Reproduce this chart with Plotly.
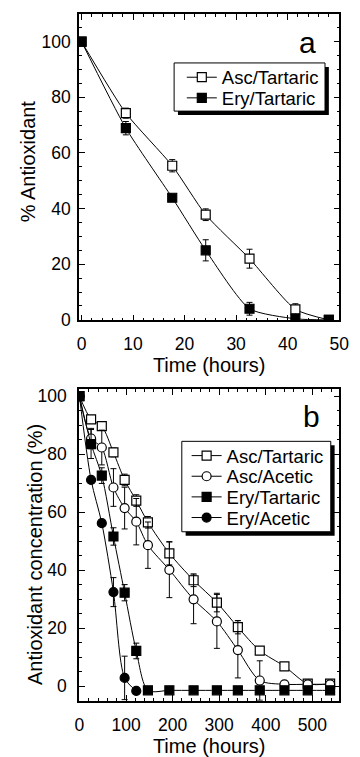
import plotly.graph_objects as go

# ---------------- data: panel a ----------------
time_a = [0, 8.6, 17.6, 24.1, 32.6, 41.5, 48]
asc_tart_a = [100, 74.3, 55.4, 37.8, 22.0, 3.8, 0]
asc_tart_a_err = [0, 1.8, 2.2, 2.1, 3.4, 2.0, 0]
ery_tart_a = [100, 68.9, 43.9, 25.0, 4.0, 0.4, 0]
ery_tart_a_err = [0, 2.4, 1.0, 3.8, 2.3, 0.5, 0]

# ---------------- data: panel b ----------------
time_b = [0, 25, 48, 73, 97, 122, 147, 193, 245, 295, 340, 387, 440, 490, 538]
asc_tart_b = [100, 92.0, 89.7, 80.6, 71.1, 64.0, 56.5, 45.8, 36.5, 28.8, 20.3, 12.2, 6.8, 0.8, 0.8]
asc_tart_b_err = [0, 1.0, 1.5, 1.5, 2.0, 2.0, 2.0, 4.0, 2.2, 3.2, 2.3, 0.5, 0.5, 0.5, 0.5]
asc_acet_b = [100, 85.4, 82.3, 68.5, 61.4, 56.7, 48.6, 40.1, 29.9, 22.3, 12.4, 1.9, 0.6, 0.6, 0.6]
asc_acet_b_err = [0, 3.5, 6.0, 6.5, 7.2, 8.0, 8.0, 9.6, 8.4, 9.3, 9.6, 6.8, 0.3, 0.3, 0.3]
ery_tart_b = [100, 83.5, 72.6, 51.6, 32.2, 12.1, -1.5, -1.5, -1.5, -1.5, -1.5, -1.5, -1.5, -1.5, -1.5]
ery_tart_b_err = [0, 5.0, 2.7, 3.0, 2.8, 2.7, 0, 0, 0, 0, 0, 0, 0, 0, 0]
time_b_ery_acet = [0, 25, 48, 73, 97, 122]
ery_acet_b = [100, 71.1, 56.2, 32.4, 2.8, -1.7]
ery_acet_b_err = [0, 1.0, 1.0, 5.0, 7.5, 0]

W, H = 360, 757
FONT = "Liberation Sans, Arial, Helvetica, sans-serif"


def px(x):
    return x / W


def py(y):
    return 1 - y / H


def trace(x, y, err, name, symbol, filled, xa, ya, legend, smoothing):
    return go.Scatter(
        x=x, y=y, name=name, mode="lines+markers",
        xaxis=xa, yaxis=ya, legend=legend,
        line=dict(color="black", width=1, shape="spline", smoothing=smoothing),
        marker=dict(symbol=symbol, size=9,
                    color="black" if filled else "white",
                    line=dict(color="black", width=1.2)),
        error_y=dict(type="data", array=err, visible=True,
                     color="black", thickness=1, width=3),
    )


fig = go.Figure()
fig.add_trace(trace(time_a, asc_tart_a, asc_tart_a_err, "Asc/Tartaric", "square", False, "x", "y", "legend", 0.6))
fig.add_trace(trace(time_a, ery_tart_a, ery_tart_a_err, "Ery/Tartaric", "square", True, "x", "y", "legend2", 0.6))
fig.add_trace(trace(time_b, asc_tart_b, asc_tart_b_err, "Asc/Tartaric", "square", False, "x2", "y2", "legend3", 0.8))
fig.add_trace(trace(time_b, asc_acet_b, asc_acet_b_err, "Asc/Acetic", "circle", False, "x2", "y2", "legend4", 0.8))
fig.add_trace(trace(time_b, ery_tart_b, ery_tart_b_err, "Ery/Tartaric", "square", True, "x2", "y2", "legend5", 0.8))
fig.add_trace(trace(time_b_ery_acet, ery_acet_b, ery_acet_b_err, "Ery/Acetic", "circle", True, "x2", "y2", "legend6", 0.8))


def axis(domain, rng, dtick, minor_dtick, title, standoff, tls):
    return dict(
        domain=domain, range=rng, dtick=dtick, tick0=0,
        showgrid=False, zeroline=False,
        showline=True, linecolor="black", linewidth=1.5, mirror="ticks",
        ticks="inside", ticklen=6, tickwidth=1, tickcolor="black",
        minor=dict(dtick=minor_dtick, tick0=0, ticks="inside", ticklen=3,
                   tickwidth=1, tickcolor="black", showgrid=False),
        tickfont=dict(family=FONT, size=17.5, color="black"),
        title=dict(text=title, font=dict(family=FONT, size=20, color="black"), standoff=standoff),
        ticklabelstandoff=tls,
    )


xd = [px(78), px(349)]
layout = dict(
    width=W, height=H,
    margin=dict(l=0, r=0, t=0, b=0),
    paper_bgcolor="white", plot_bgcolor="white",
    xaxis=dict(axis([*xd], [-0.5, 50.05], 10, 2, "Time (hours)", 2, 7), anchor="y"),
    yaxis=dict(axis([py(323), py(11)], [-0.2, 110], 20, 5, "", 0, 3), anchor="x"),
    xaxis2=dict(axis([*xd], [-1, 558], 100, 20, "Time (hours)", 2, 7), anchor="y2"),
    yaxis2=dict(axis([py(710), py(393)], [-5.1, 102.4], 20, 5, "", 0, 7), anchor="x2"),
    showlegend=True,
)

leg_font = dict(family=FONT, size=18.5, color="black")
leg_rows = [("legend", 185, 76), ("legend2", 185, 97),
            ("legend3", 190, 461), ("legend4", 190, 482), ("legend5", 190, 503), ("legend6", 190, 524)]
for key, lx, ly in leg_rows:
    layout[key] = dict(x=px(lx), y=py(ly), xanchor="left", yanchor="middle",
                       bgcolor="rgba(0,0,0,0)", borderwidth=0, font=leg_font)

shapes = []
for (x0, y0, x1, y1) in [(177, 61, 334, 110), (185, 446, 340, 538)]:
    shapes.append(dict(type="rect", xref="paper", yref="paper",
                       x0=px(x0 + 4), x1=px(x1 + 4), y0=py(y1 + 4), y1=py(y0 + 4),
                       fillcolor="black", line=dict(width=0), layer="above"))
    shapes.append(dict(type="rect", xref="paper", yref="paper",
                       x0=px(x0), x1=px(x1), y0=py(y1), y1=py(y0),
                       fillcolor="white", line=dict(color="black", width=1), layer="above"))
layout["shapes"] = shapes

title_font = dict(family=FONT, size=20, color="black")
layout["annotations"] = [
    dict(text="a", x=px(316), y=py(40), xref="paper", yref="paper", showarrow=False,
         font=dict(family=FONT, size=30, color="black"), xanchor="center", yanchor="middle"),
    dict(text="b", x=px(320), y=py(421), xref="paper", yref="paper", showarrow=False,
         font=dict(family=FONT, size=30, color="black"), xanchor="center", yanchor="middle"),
    dict(text="% Antioxidant", x=px(25), y=py(161), xref="paper", yref="paper", showarrow=False,
         textangle=-90, font=title_font, xanchor="center", yanchor="middle"),
    dict(text="Antioxidant concentration (%)", x=px(33), y=py(561), xref="paper", yref="paper",
         showarrow=False, textangle=-90, font=title_font, xanchor="center", yanchor="middle"),
]

fig.update_layout(**layout)
fig.write_html("out.html", config={"displayModeBar": False},
               post_script="document.body.style.margin='0';document.body.style.overflow='hidden';")
